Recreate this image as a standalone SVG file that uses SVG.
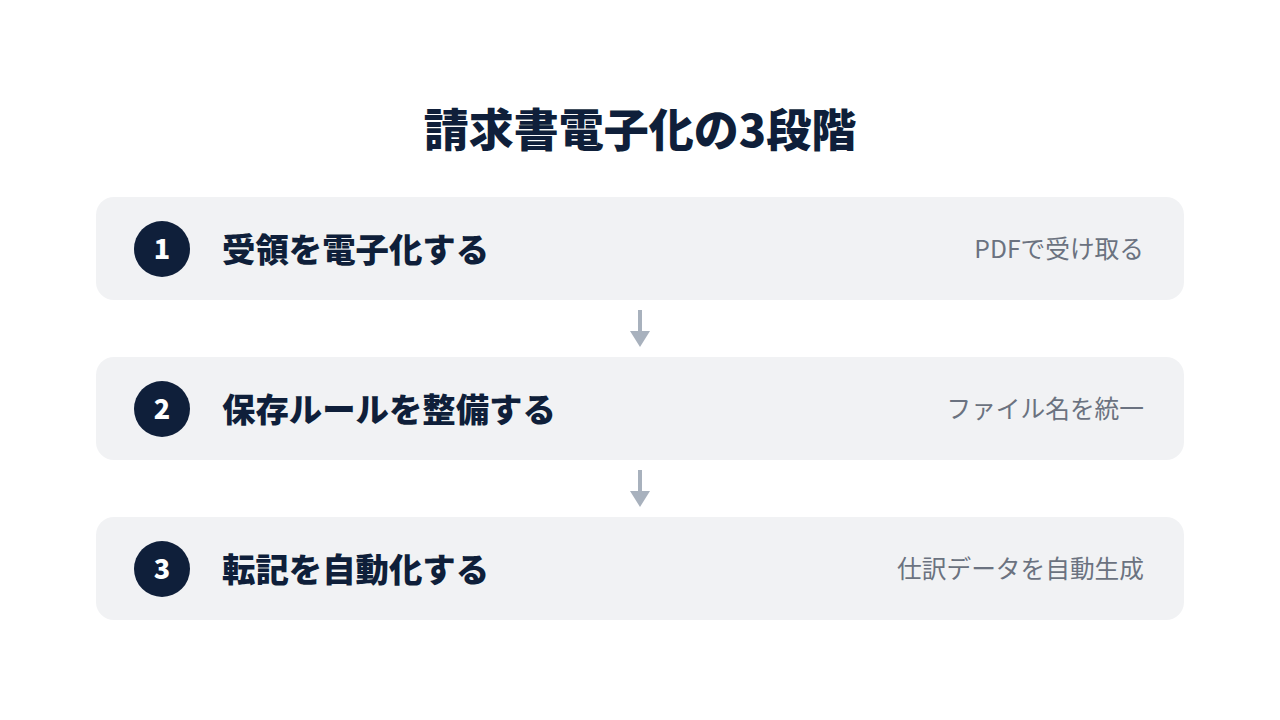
<svg xmlns="http://www.w3.org/2000/svg" width="1280" height="720" viewBox="0 0 1280 720">
<style>
.title{font-family:"Noto Sans CJK JP","Noto Sans",sans-serif;font-weight:900;font-size:45px;fill:#0f1f3a;text-anchor:middle}
.box{fill:#f1f2f4}
.num{fill:#0f1f3a}
.numt{font-family:"Noto Sans CJK JP","Noto Sans",sans-serif;font-weight:900;font-size:27px;fill:#ffffff;text-anchor:middle}
.lbl{font-family:"Noto Sans CJK JP","Noto Sans",sans-serif;font-weight:900;font-size:33.4px;fill:#0f1f3a}
.sub{font-family:"Noto Sans CJK JP","Noto Sans",sans-serif;font-size:24.7px;fill:#6b7280;text-anchor:end}
.con{stroke:#a8b1bd;stroke-width:4;fill:none}
.head{fill:#a8b1bd}
</style>
<rect width="1280" height="720" fill="#ffffff"/>
<text class="title" x="640" y="147">請求書電子化の3段階</text>
<g id="step1">
<rect class="box" x="96" y="197" width="1088" height="103" rx="18"/>
<circle class="num" cx="162" cy="249" r="28"/>
<text class="numt" x="162" y="259">1</text>
<text class="lbl" x="222" y="262">受領を電子化する</text>
<text class="sub" x="1144" y="258">PDFで受け取る</text>
</g>
<g id="step2">
<rect class="box" x="96" y="357" width="1088" height="103" rx="18"/>
<circle class="num" cx="162" cy="409" r="28"/>
<text class="numt" x="162" y="419">2</text>
<text class="lbl" x="222" y="422">保存ルールを整備する</text>
<text class="sub" x="1144" y="418">ファイル名を統一</text>
</g>
<g id="step3">
<rect class="box" x="96" y="517" width="1088" height="103" rx="18"/>
<circle class="num" cx="162" cy="569" r="28"/>
<text class="numt" x="162" y="579">3</text>
<text class="lbl" x="222" y="582">転記を自動化する</text>
<text class="sub" x="1144" y="578">仕訳データを自動生成</text>
</g>
<g id="connectors">
<line class="con" x1="640" y1="310" x2="640" y2="333"/>
<polygon class="head" points="630,331 650,331 640,347"/>
<line class="con" x1="640" y1="470" x2="640" y2="493"/>
<polygon class="head" points="630,491 650,491 640,507"/>
</g>
</svg>
